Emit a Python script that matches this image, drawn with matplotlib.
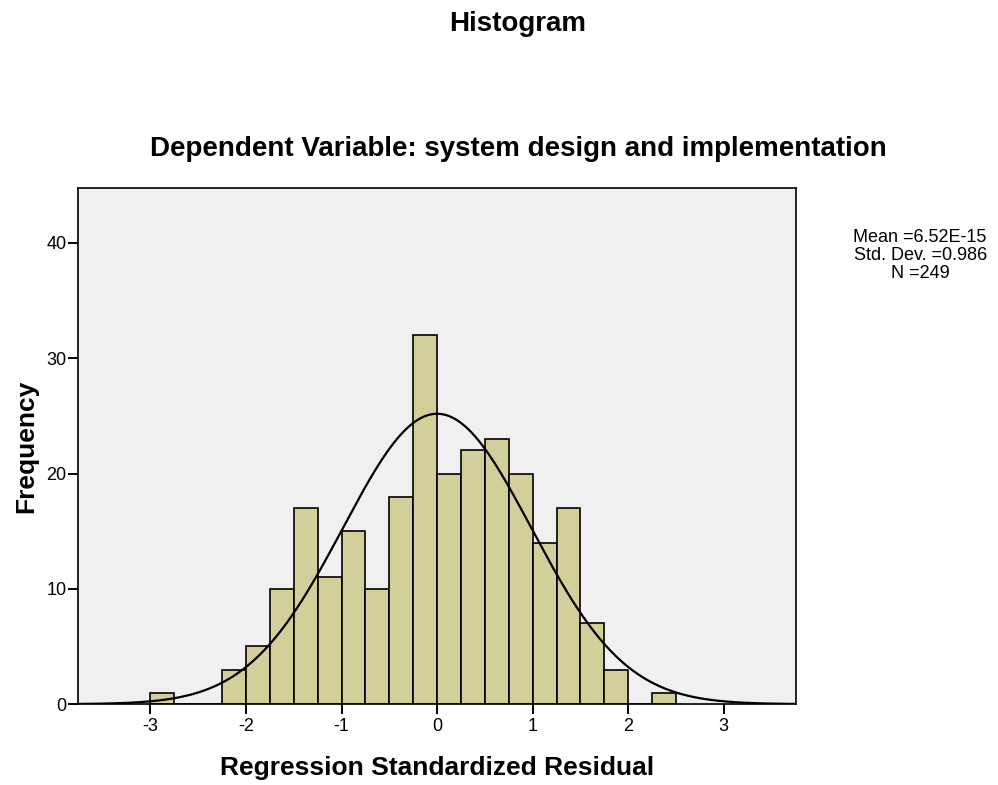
import numpy as np
import matplotlib.pyplot as plt

plt.rcParams['font.family'] = ['Liberation Sans', 'DejaVu Sans']
plt.rcParams['axes.unicode_minus'] = False

# histogram of regression standardized residuals (bin width 0.25)
bin_edges = np.arange(-3.0, 2.5001, 0.25)
counts = [1, 0, 0, 3, 5, 10, 17, 11, 15, 10, 18, 32,
          20, 22, 23, 20, 14, 17, 7, 3, 0, 1]
mean = 6.52e-15
std = 0.986
n = 249

fig = plt.figure(figsize=(9.98, 7.85), dpi=100)
ax = fig.add_axes([0.078, 0.103, 0.72, 0.658])
ax.set_facecolor('#f0f0f0')

lefts = bin_edges[:-1]
widths = np.diff(bin_edges)
ax.bar(lefts, counts, width=widths, align='edge', color='#d3cf9a',
       edgecolor='black', linewidth=1.2, zorder=2)

# normal curve scaled to counts
xs = np.linspace(-3.8, 3.8, 400)
bw = 0.25
ys = n * bw / (std * np.sqrt(2 * np.pi)) * np.exp(-0.5 * ((xs - mean) / std) ** 2)
ax.plot(xs, ys, color='black', linewidth=1.6, zorder=3)

ax.set_xlim(-3.76, 3.76)
ax.set_ylim(0, 44.8)
ax.set_xticks([-3, -2, -1, 0, 1, 2, 3])
ax.set_yticks([0, 10, 20, 30, 40])
ax.tick_params(direction='out', length=7, width=1.4, labelsize=13,
               top=False, right=False)
ax.tick_params(axis='y', pad=1)
ax.tick_params(axis='x', pad=3)
for s in ax.spines.values():
    s.set_linewidth(1.2)

ax.set_xlabel('Regression Standardized Residual', fontsize=19,
              fontweight='bold', labelpad=15)
ax.set_ylabel('Frequency', fontsize=19, fontweight='bold', labelpad=6)

fig.text(0.519, 0.970, 'Histogram', ha='center', va='center',
         fontsize=20, fontweight='bold')
fig.text(0.519, 0.814 - 0.004, 'Dependent Variable: system design and implementation',
         ha='center', va='center', fontsize=20, fontweight='bold')

fig.text(0.922, 0.674, 'Mean =6.52E-15\nStd. Dev. =0.986\nN =249',
         ha='center', va='center', fontsize=13, linespacing=1.08)

fig.savefig('out.png', dpi=100)
